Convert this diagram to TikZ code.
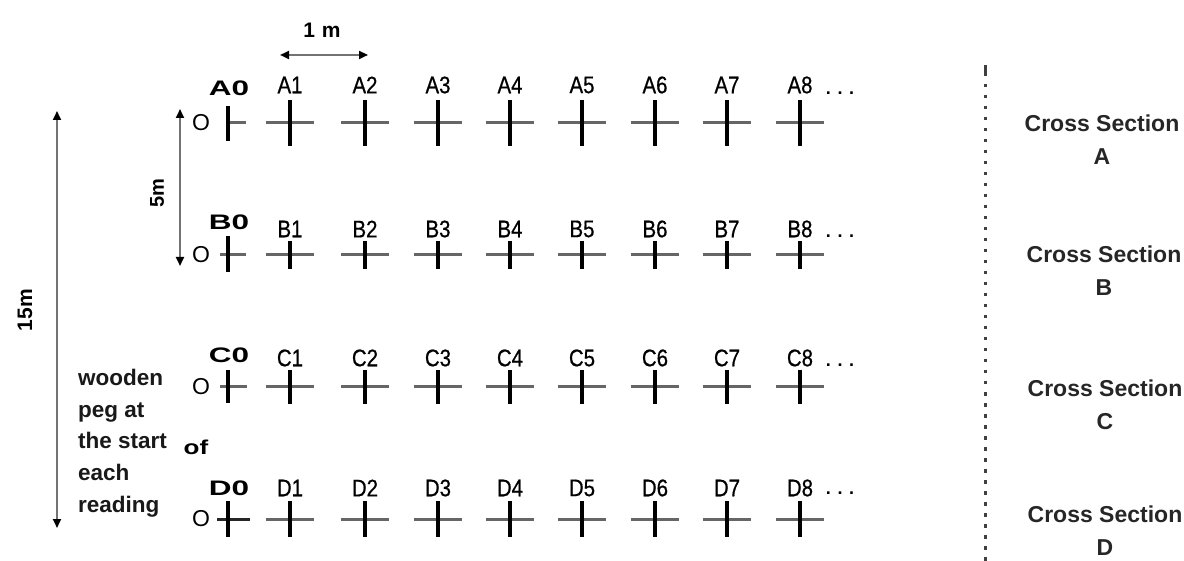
\documentclass[tikz,border=0pt]{standalone}
\usepackage{fontspec}
\setmainfont{Liberation Sans}
\newfontfamily\lblfont[FakeStretch=0.85,FakeBold=0.6]{Liberation Sans}
\newfontfamily\widefont[FakeStretch=1.5]{Liberation Sans}
\newfontfamily\offont[FakeStretch=1.3]{Liberation Sans}
\usetikzlibrary{arrows.meta}
\begin{document}
\begin{tikzpicture}[x=1pt,y=-1pt,
  tick/.style={line width=3.2pt, black},
  hbar/.style={line width=3pt, black!60},
  lbl/.style={font=\lblfont\fontsize{24}{24}\selectfont, inner sep=0},
  zlbl/.style={font=\widefont\bfseries\fontsize{21}{21}\selectfont, inner sep=0},
  olbl/.style={font=\fontsize{23}{23}\selectfont, inner sep=0},
  dotslbl/.style={font=\bfseries\fontsize{18}{18}\selectfont, inner sep=0},
  txt/.style={font=\bfseries\fontsize{22.5}{31.7}\selectfont, inner sep=0, align=left, text=black!90},
  cs/.style={font=\bfseries\fontsize{23}{33}\selectfont, inner sep=0, align=center, text=black!85},
  dimline/.style={line width=2.2pt, black!55, {Triangle[black,length=9pt,width=8pt]}-{Triangle[black,length=9pt,width=8pt]}},
  sep/.style={line width=3pt, black!75, dash pattern=on 3.5pt off 7.5pt}
]
\useasboundingbox (0,0) rectangle (1184,561);

% rows of markers
\foreach \r/\y/\ly/\h/\zy/\dy in {A/123/85/23/88/93, B/255/229/14/222/236, C/387/358/17/355/365, D/519/488/18/488/493}{
  \foreach \i/\x in {1/290,2/365,3/438,4/510,5/582,6/655,7/727,8/800}{
    \node[lbl] (\r\i) at (\x,\ly) {\r\i};
    \draw[hbar] (\x-24,\y) -- (\x+24,\y);
    \draw[tick] (\x,\y-\h) -- (\x,\y+\h);
  }
  \node[zlbl] (\r0) at (229,\zy) {\r0};
  \node[olbl] (O\r) at (201,\y) {O};
  \node[dotslbl] (dots\r) at (840,\dy) {. . .};
}
% zero pegs
\draw[hbar] (228,123) -- (246,123);
\draw[tick] (228,106) -- (228,141);
\draw[hbar] (220,255) -- (246,255);
\draw[tick] (228,236) -- (228,272);
\draw[hbar] (220,387) -- (247,387);
\draw[tick] (228,370) -- (228,403);
\draw[hbar,black!85] (217,519) -- (250,519);
\draw[tick] (228,501) -- (228,537);

% 1 m dimension
\coordinate (m1a) at (280,55);
\coordinate (m1b) at (368,55);
\draw[dimline] (m1a) -- (m1b);
\node[font=\bfseries\fontsize{21}{21}\selectfont, inner sep=0] (onem) at (322,30) {1\,\,m};

% 5 m dimension
\coordinate (m5a) at (180,109);
\coordinate (m5b) at (180,266);
\draw[dimline] (m5a) -- (m5b);
\node[font=\bfseries\fontsize{20}{20}\selectfont, inner sep=0, rotate=90] (fivem) at (157,193) {5m};

% 15 m dimension
\coordinate (m15a) at (57,111);
\coordinate (m15b) at (57,528);
\draw[dimline] (m15a) -- (m15b);
\node[font=\bfseries\fontsize{21}{21}\selectfont, inner sep=0, rotate=90] (fifteenm) at (25,310) {15m};

% left text
\node[txt, anchor=north west] (peg) at (78,369) {wooden\\peg at\\the start\\each\\reading};
\node[font=\offont\bfseries\fontsize{20}{20}\selectfont, inner sep=0] (of) at (196,447) {of};

% separator
\coordinate (sepa) at (985,65);
\coordinate (sepb) at (985,561);
\draw[line width=3pt, black!75] (sepa) -- ++(0,11);
\draw[sep] (985,84) -- (sepb);

% cross section labels
\node[cs] (csA) at (1102,140) {Cross Section\\A};
\node[cs] (csB) at (1104,271) {Cross Section\\B};
\node[cs] (csC) at (1105,405) {Cross Section\\C};
\node[cs] (csD) at (1105,531) {Cross Section\\D};
\end{tikzpicture}
\end{document}
